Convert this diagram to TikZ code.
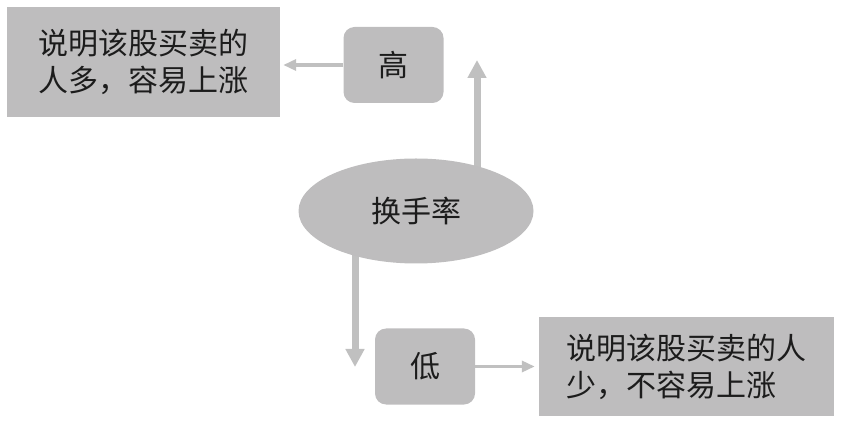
\documentclass[tikz,border=0pt]{standalone}
\usepackage{fontspec}
\newfontfamily\cjk{Noto Sans CJK SC}
\usetikzlibrary{arrows.meta,shapes.geometric,backgrounds}

\definecolor{hslFill}{RGB}{190,189,190}
\definecolor{hslArrow}{RGB}{192,192,192}
\definecolor{hslText}{RGB}{28,28,28}

\tikzset{
  txtbox/.style={rectangle, fill=hslFill, inner sep=0pt, align=left, text=hslText,
    font=\cjk\fontsize{30}{37}\selectfont},
  keybox/.style={txtbox, rounded corners=11pt, minimum width=100pt, minimum height=76pt},
  thickarr/.style={draw=hslArrow, line width=7pt, -{Triangle[length=18pt,width=18pt]}, hslArrow},
  thinarr/.style={draw=hslArrow, line width=3.5pt, -{Triangle[length=13pt,width=11pt]}, hslArrow}
}

\begin{document}
\begin{tikzpicture}[x=1pt, y=1pt]
  \useasboundingbox (0,0) rectangle (842,420);
  \node[txtbox, minimum width=273pt, minimum height=110pt] (hiTxt) at (143.5,358) {说明该股买卖的\\人多，容易上涨};
  \node[keybox] (hiBox) at (393.5,355) {高};
  \node[ellipse, fill=hslFill, inner sep=0pt, minimum width=235pt, minimum height=105pt,
    text=hslText, font=\cjk\fontsize{30}{37}\selectfont] (rate) at (416,209) {换手率};
  \node[keybox] (loBox) at (425,53.5) {低};
  \node[txtbox, minimum width=295pt, minimum height=99pt] (loTxt) at (686.5,53.5) {说明该股买卖的人\\少，不容易上涨};
  \coordinate (upTip) at (477,360);
  \coordinate (dnTip) at (355,53);

  \begin{scope}[on background layer]
    \draw[thickarr] (rate -| upTip) -- (upTip);
    \draw[thickarr] (rate -| dnTip) -- (dnTip);
  \end{scope}
  \draw[thinarr, shorten >=3pt] (hiBox.west) -- (hiBox.west -| hiTxt.east);
  \draw[thinarr, shorten >=4pt] (loBox.east) -- (loTxt.west |- loBox.east);
\end{tikzpicture}
\end{document}
